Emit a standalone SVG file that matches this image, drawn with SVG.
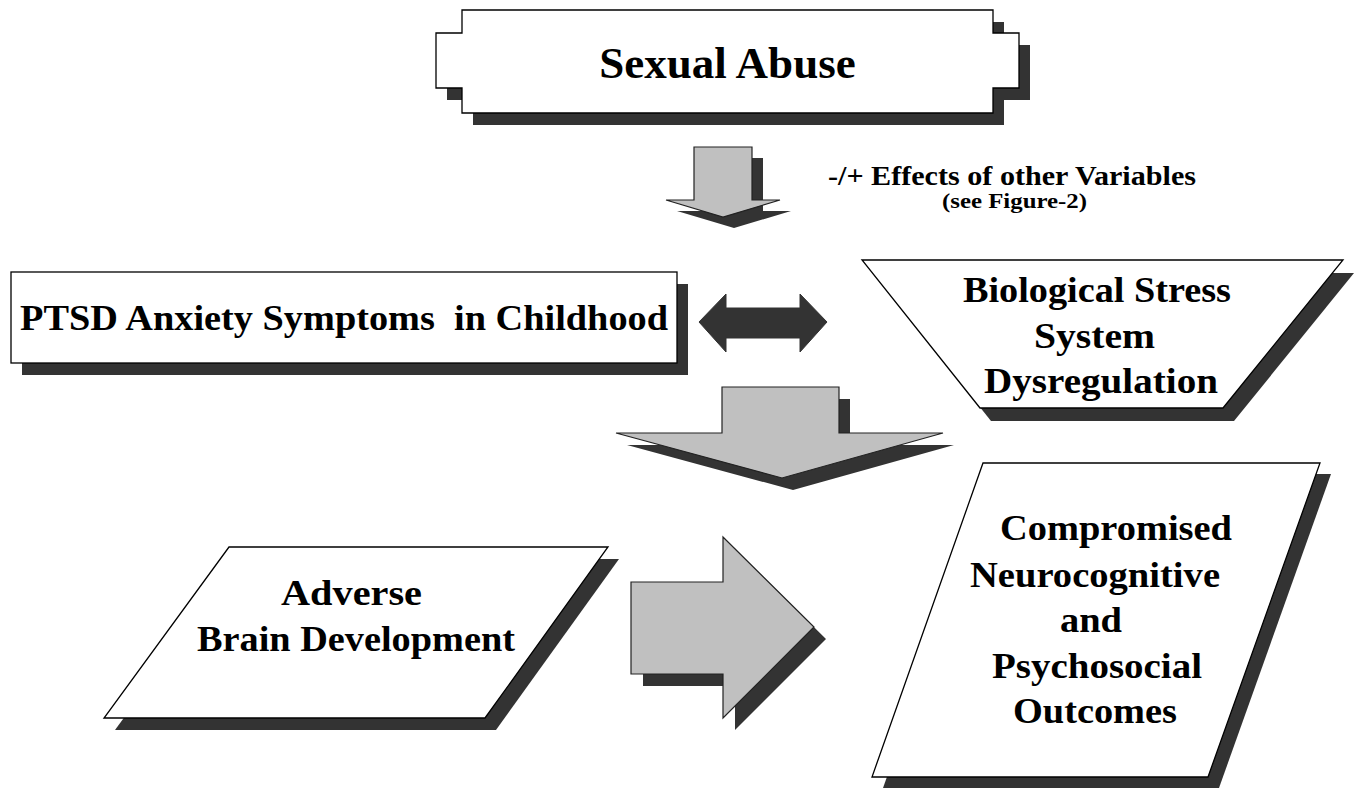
<svg xmlns="http://www.w3.org/2000/svg" width="1362" height="789" viewBox="0 0 1362 789">
<style>
  .shadow { fill: #333333; stroke: none; }
  .box { fill: #ffffff; stroke: #000000; stroke-width: 1.3; }
  .arrow { fill: #c0c0c0; stroke: #222222; stroke-width: 1.2; }
  .darrow { fill: #333333; stroke: #333333; stroke-width: 1; }
  text { font-family: "Liberation Serif", "Times New Roman", serif; font-weight: bold; fill: #000000; }
  .t36 { font-size: 36px; }
  .t35 { font-size: 35px; }
</style>
<rect width="1362" height="789" fill="#ffffff"/>

<g id="connectors">
  <g id="arrow-abuse-down">
    <path class="shadow" transform="translate(11,11)" d="M694,147 H752 V200 H780 L723,217 L666,200 H694 Z"/>
    <path class="arrow" d="M694,147 H752 V200 H780 L723,217 L666,200 H694 Z"/>
  </g>
  <g id="arrow-ptsd-bio">
    <path class="darrow" d="M699,322 L726,294 V308 H800 V294 L827,322 L800,352 V338 H726 V352 Z"/>
  </g>
  <g id="arrow-big-down">
    <path class="shadow" transform="translate(11,12)" d="M722,387 H839 V433 H943 L782,478 L616,433 H722 Z"/>
    <path class="arrow" d="M722,387 H839 V433 H943 L782,478 L616,433 H722 Z"/>
  </g>
  <g id="arrow-right">
    <path class="shadow" transform="translate(12,12)" d="M631,582 H723 V537 L814,627 L723,718 V674 H631 Z"/>
    <path class="arrow" d="M631,582 H723 V537 L814,627 L723,718 V674 H631 Z"/>
  </g>
</g>

<g id="node-sexual-abuse">
  <path class="shadow" transform="translate(11,12)" d="M462,10 H993 V33 H1019 V88 H993 V113 H462 V88 H436 V33 H462 Z"/>
  <path class="box" d="M462,10 H993 V33 H1019 V88 H993 V113 H462 V88 H436 V33 H462 Z"/>
  <text x="727.5" y="78" font-size="45" text-anchor="middle">Sexual Abuse</text>
</g>

<g id="label-effects">
  <text x="828" y="185" font-size="28" textLength="368" lengthAdjust="spacingAndGlyphs">-/+ Effects of other Variables</text>
  <text x="942" y="208" font-size="21" textLength="145" lengthAdjust="spacingAndGlyphs">(see Figure-2)</text>
</g>

<g id="node-ptsd">
  <rect class="shadow" x="22" y="284" width="666" height="91"/>
  <rect class="box" x="11" y="272" width="666" height="91"/>
  <text class="t36" x="20" y="330" textLength="648" lengthAdjust="spacingAndGlyphs" xml:space="preserve">PTSD Anxiety Symptoms  in Childhood</text>
</g>

<g id="node-bio">
  <path class="shadow" transform="translate(11,13)" d="M862,260 H1343 L1223,408 H980 Z"/>
  <path class="box" d="M862,260 H1343 L1223,408 H980 Z"/>
  <text class="t35" x="963" y="302" textLength="268" lengthAdjust="spacingAndGlyphs">Biological Stress</text>
  <text class="t35" x="1034" y="348" textLength="121" lengthAdjust="spacingAndGlyphs">System</text>
  <text class="t35" x="984" y="393" textLength="234" lengthAdjust="spacingAndGlyphs">Dysregulation</text>
</g>

<g id="node-brain">
  <path class="shadow" transform="translate(11,12)" d="M229,547 H608 L485,718 H104 Z"/>
  <path class="box" d="M229,547 H608 L485,718 H104 Z"/>
  <text class="t36" x="281" y="605" textLength="141" lengthAdjust="spacingAndGlyphs">Adverse</text>
  <text class="t36" x="197" y="651" textLength="318" lengthAdjust="spacingAndGlyphs">Brain Development</text>
</g>

<g id="node-outcomes">
  <path class="shadow" transform="translate(11,11)" d="M983,463 H1320 L1208,777 H872 Z"/>
  <path class="box" d="M983,463 H1320 L1208,777 H872 Z"/>
  <text class="t36" x="1000" y="540" textLength="232" lengthAdjust="spacingAndGlyphs">Compromised</text>
  <text class="t36" x="970" y="587" textLength="250" lengthAdjust="spacingAndGlyphs">Neurocognitive</text>
  <text class="t36" x="1060" y="632" textLength="62" lengthAdjust="spacingAndGlyphs">and</text>
  <text class="t36" x="992" y="678" textLength="210" lengthAdjust="spacingAndGlyphs">Psychosocial</text>
  <text class="t36" x="1013" y="723" textLength="164" lengthAdjust="spacingAndGlyphs">Outcomes</text>
</g>
</svg>
